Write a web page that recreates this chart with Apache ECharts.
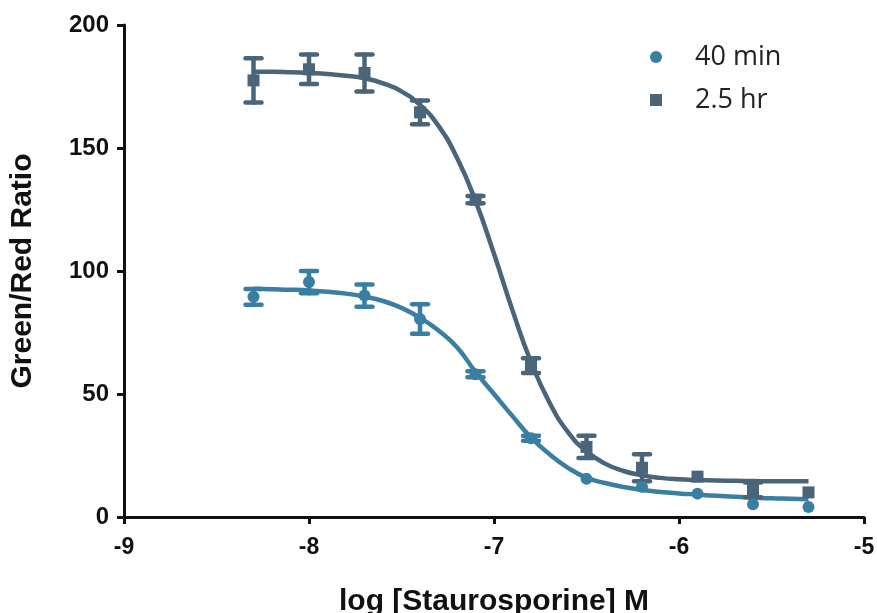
<!DOCTYPE html>
<html>
<head>
<meta charset="utf-8">
<script src="https://cdn.jsdelivr.net/npm/echarts@6/dist/echarts.min.js"></script>
<style>html,body{margin:0;padding:0;background:#fff;overflow:hidden}#c{width:877px;height:613px}</style>
</head>
<body>
<div id="c"></div>
<script>
// Measured points
const doseX = [-8.3, -8.0, -7.7, -7.4, -7.1, -6.8, -6.5, -6.2, -5.9, -5.6, -5.3];
const min40Mean = [89.5, 95.5, 90, 80.5, 58, 32, 15.5, 12.3, 9.5, 5.2, 4.1];
const min40Err  = [3.2, 4.5, 4.5, 6, 1.2, 1, 0, 0, 0, 0, 0];
const hr25Mean  = [177.5, 182, 180.5, 164.5, 129, 61.5, 28.5, 20, 16.4, 11, 10];
const hr25Err   = [9, 6, 7.5, 4.8, 1.5, 3, 4.5, 5.5, 0, 3, 0];
// Fitted curves
const curveX = [-8.3,-8.2,-8.1,-8.0,-7.9,-7.8,-7.7,-7.6,-7.5,-7.4,-7.3,-7.2,-7.1,-7.0,-6.9,-6.8,-6.7,-6.6,-6.5,-6.4,-6.3,-6.2,-6.1,-6.0,-5.9,-5.8,-5.7,-5.6,-5.5,-5.4,-5.3];
const min40Curve = [92.8,92.6,92.4,92.1,91.6,90.8,89.6,87.8,85,81,75.8,69,59,50,41,32.3,25.5,20,16,13.8,12.2,11,10.2,9.6,9.1,8.6,8.2,7.9,7.6,7.4,7.2];
const hr25Curve  = [181,181,180.8,180.5,180.1,179.4,178.3,176.3,173,167.5,159,146,128.5,107,84,63,46.5,34.5,26.7,21.7,18.7,17,15.9,15.3,15,14.8,14.7,14.6,14.5,14.5,14.5];

const C40 = '#3a7ea1';
const C25 = '#4a6479';

function pairs(xs, ys){ return xs.map((x,i)=>[x, ys[i]]); }
function errData(xs, m, e){
  return xs.map((x,i)=>[x, m[i]-e[i], m[i]+e[i]]).filter((d,i)=>e[i] > 0);
}

function errRender(color){
  return function(params, api){
    const x = api.value(0);
    const lo = api.coord([x, api.value(1)]);
    const hi = api.coord([x, api.value(2)]);
    const hw = 8;
    const st = {stroke: color, lineWidth: 4.5, lineCap: 'round'};
    return {type:'group', children:[
      {type:'line', shape:{x1:lo[0], y1:lo[1], x2:hi[0], y2:hi[1]}, style:st},
      {type:'line', shape:{x1:lo[0]-hw, y1:lo[1], x2:lo[0]+hw, y2:lo[1]}, style:st},
      {type:'line', shape:{x1:hi[0]-hw, y1:hi[1], x2:hi[0]+hw, y2:hi[1]}, style:st}
    ]};
  };
}

const chart = echarts.init(document.getElementById('c'), null, {renderer:'canvas', width: 877, height: 613});
chart.setOption({
  animation: false,
  backgroundColor: '#fff',
  grid: {left: 124, top: 25, width: 740, height: 492, containLabel: false, outerBoundsMode: 'none'},
  legend: {
    data: [{name:'40 min', icon:'circle'}, {name:'2.5 hr', icon:'rect'}],
    orient: 'vertical', left: 645, top: 38, itemWidth: 12, itemHeight: 12, itemGap: 15,
    textStyle: {fontFamily: 'Open Sans', fontSize: 27, lineHeight: 28, color: '#222', padding: [0,0,0,28]}
  },
  xAxis: {
    type: 'value', min: -9, max: -5, interval: 1,
    name: 'log [Staurosporine] M', nameLocation: 'middle', nameGap: 70,
    nameTextStyle: {fontFamily: 'Liberation Sans', fontWeight: 'bold', fontSize: 30, color: '#111'},
    axisLine: {onZero: false, lineStyle: {color: '#111', width: 3}},
    axisTick: {show: true, length: 7, lineStyle: {color: '#111', width: 3}},
    axisLabel: {fontFamily: 'Liberation Sans', fontWeight: 'bold', fontSize: 23, color: '#111', margin: 19},
    splitLine: {show: false}
  },
  yAxis: {
    type: 'value', min: 0, max: 200, interval: 50,
    name: 'Green/Red Ratio', nameLocation: 'middle', nameGap: 86, nameRotate: 90,
    nameTextStyle: {fontFamily: 'Liberation Sans', fontWeight: 'bold', fontSize: 30, color: '#111'},
    axisLine: {show: true, lineStyle: {color: '#111', width: 3}},
    axisTick: {show: true, length: 7, lineStyle: {color: '#111', width: 3}},
    axisLabel: {fontFamily: 'Liberation Sans', fontWeight: 'bold', fontSize: 24, color: '#111', margin: 15},
    splitLine: {show: false}
  },
  series: [
    {name:'fit40', type:'line', data: pairs(curveX, min40Curve), smooth: true, showSymbol: false,
     lineStyle:{color:C40, width:4.5}, z: 2},
    {name:'fit25', type:'line', data: pairs(curveX, hr25Curve), smooth: true, showSymbol: false,
     lineStyle:{color:C25, width:4.5}, z: 2},
    {name:'err40', type:'custom', renderItem: errRender(C40), data: errData(doseX, min40Mean, min40Err), z: 3},
    {name:'err25', type:'custom', renderItem: errRender(C25), data: errData(doseX, hr25Mean, hr25Err), z: 3},
    {name:'40 min', type:'scatter', data: pairs(doseX, min40Mean), symbol:'circle', symbolSize: 12,
     itemStyle:{color:C40, opacity:1}, z: 4},
    {name:'2.5 hr', type:'scatter', data: pairs(doseX, hr25Mean), symbol:'rect', symbolSize: 12,
     itemStyle:{color:C25, opacity:1}, z: 4}
  ]
});
</script>
</body>
</html>
